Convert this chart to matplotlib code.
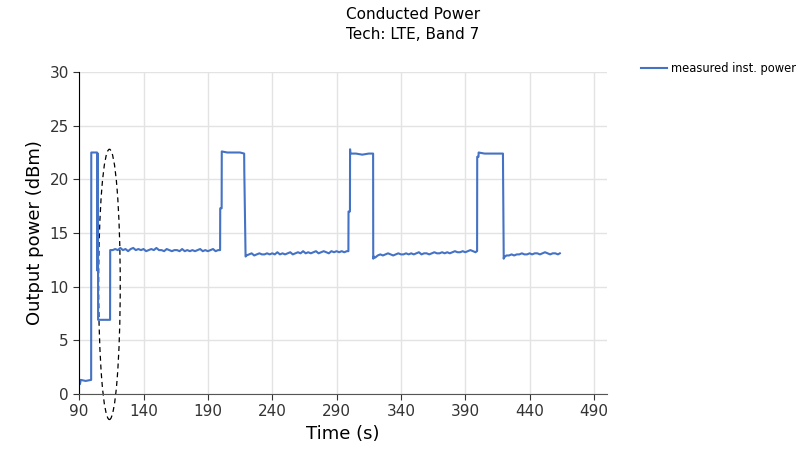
import numpy as np
import matplotlib.pyplot as plt
from matplotlib.patches import Ellipse

# start of the trace: idle, first pulse, 7 dBm step
t_start = [90, 90.6, 91.2, 95, 99.3, 99.4, 103.9, 104.0, 104.1, 104.6, 104.7, 114.0, 114.1]
p_start = [1.3, 0.9, 1.3, 1.2, 1.3, 22.5, 22.5, 11.5, 22.4, 22.4, 6.9, 6.9, 13.4]

low1 = [13.4, 13.5, 13.4, 13.6, 13.4, 13.5, 13.3, 13.5, 13.6, 13.4,
        13.5, 13.4, 13.5, 13.3, 13.4, 13.5, 13.4, 13.6, 13.4, 13.4,
        13.3, 13.5, 13.4, 13.3, 13.4, 13.4, 13.3, 13.5, 13.3, 13.4,
        13.3, 13.4, 13.3, 13.4, 13.5, 13.3, 13.4, 13.3, 13.4, 13.5,
        13.3, 13.4]
t_pulse1 = [199.5, 199.6, 200.7, 200.8, 205, 210, 215, 218.2, 218.3, 219.0, 219.3]
p_pulse1 = [13.4, 17.3, 17.3, 22.6, 22.5, 22.5, 22.5, 22.4, 20.8, 15.6, 12.8]

low2 = [12.9, 13.0, 13.1, 12.9, 13.0, 13.1, 13.0, 13.0, 13.1, 13.0,
        13.1, 13.0, 13.2, 13.0, 13.1, 13.0, 13.1, 13.2, 13.0, 13.1,
        13.2, 13.1, 13.3, 13.1, 13.2, 13.1, 13.2, 13.3, 13.1, 13.2,
        13.3, 13.2, 13.1, 13.3, 13.2, 13.3, 13.2, 13.3, 13.2, 13.3]
t_pulse2 = [299.2, 299.3, 300.4, 300.5, 300.7, 305, 310, 315, 318.4, 318.5, 319.0]
p_pulse2 = [13.3, 17.0, 17.0, 22.8, 22.4, 22.4, 22.3, 22.4, 22.4, 12.6, 12.8]

low3 = [12.7, 12.9, 13.0, 12.9, 13.0, 13.1, 13.0, 12.9, 13.0, 13.1,
        13.0, 13.0, 13.1, 13.0, 13.1, 13.0, 13.1, 13.2, 13.0, 13.1,
        13.1, 13.0, 13.1, 13.2, 13.1, 13.1, 13.2, 13.1, 13.2, 13.1,
        13.2, 13.3, 13.2, 13.2, 13.3, 13.2, 13.3, 13.4, 13.3, 13.2]
t_pulse3 = [398.9, 399.2, 399.3, 400.3, 400.4, 405, 410, 415, 419.3, 419.4, 419.9]
p_pulse3 = [13.3, 13.3, 22.1, 22.1, 22.5, 22.4, 22.4, 22.4, 22.4, 20.4, 12.6]

low4 = [12.7, 12.9, 12.9, 13.0, 12.9, 13.0, 13.0, 13.1, 13.0, 13.0,
        13.1, 13.0, 13.1, 13.1, 13.0, 13.1, 13.2, 13.1, 13.0, 13.1,
        13.1, 13.0]
t_end = [463.5]
p_end = [13.1]

time = np.concatenate([t_start, np.arange(116, 199, 2), t_pulse1,
                       np.arange(220, 299, 2), t_pulse2,
                       np.arange(320, 399, 2), t_pulse3,
                       np.arange(420, 463, 2), t_end])
power = np.concatenate([p_start, low1, p_pulse1, low2, p_pulse2,
                        low3, p_pulse3, low4, p_end])

fig = plt.figure(figsize=(8.08, 4.59), dpi=100)
ax = fig.add_axes([0.098, 0.142, 0.653, 0.701])

ax.plot(time, power, color="#4472C4", lw=1.5, label="measured inst. power")

# dashed ellipse marking the step region
ell = Ellipse((113.5, 10.2), 16.8, 25.2, fill=False, ls=(0, (4, 3)),
              lw=0.9, color="black", clip_on=False)
ax.add_patch(ell)

ax.set_xlim(90, 500)
ax.set_ylim(0, 30)
ax.set_xticks(np.arange(90, 491, 50))
ax.set_yticks(np.arange(0, 31, 5))
ax.grid(True, color="#e3e3e3", lw=1)
ax.set_axisbelow(True)
for s in ["top", "right"]:
    ax.spines[s].set_visible(False)
ax.spines["left"].set_color("black")
ax.spines["bottom"].set_color("#555555")
ax.tick_params(labelsize=11, length=4, colors="#333333")

ax.set_xlabel("Time (s)", fontsize=13)
ax.set_ylabel("Output power (dBm)", fontsize=13)
fig.text(0.511, 0.985, "Conducted Power\nTech: LTE, Band 7", fontsize=11,
         ha="center", va="top", linespacing=1.45)

fig.legend(loc="upper left", bbox_to_anchor=(0.788, 0.875), frameon=False,
           fontsize=8.3, handlelength=2.2, handletextpad=0.4, borderaxespad=0)

plt.savefig("out.png")
